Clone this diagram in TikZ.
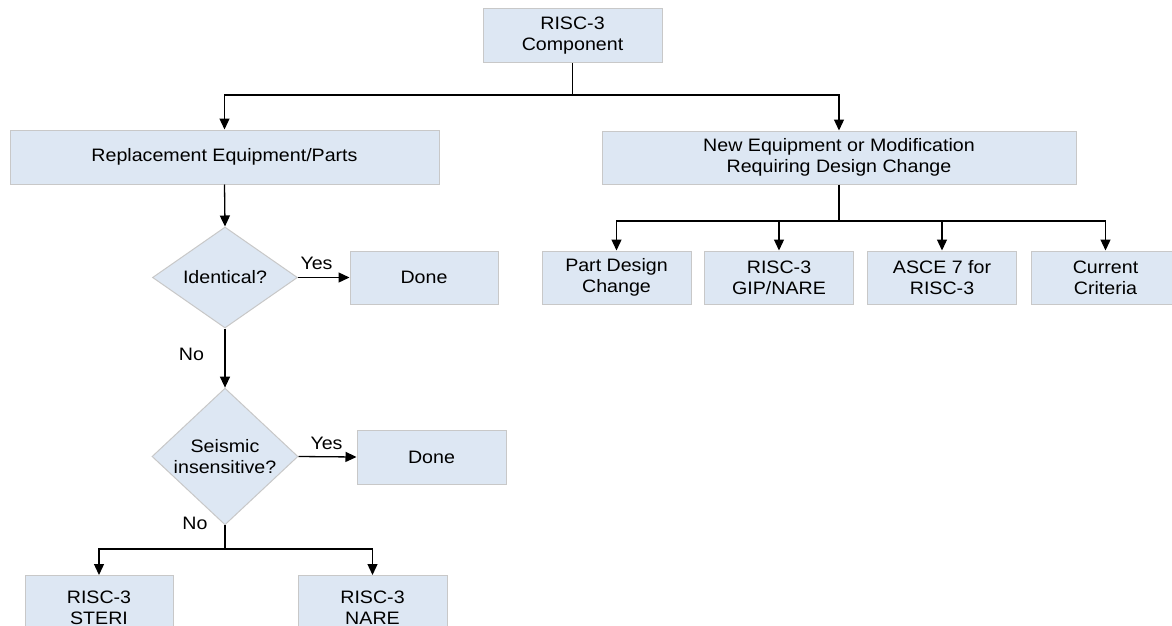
\documentclass[tikz,border=0pt]{standalone}
\usepackage{fontspec}
\setmainfont{Liberation Sans}[FakeStretch=1.09]
\usetikzlibrary{arrows.meta,shapes.geometric}
\definecolor{boxfill}{RGB}{221,231,243}
\definecolor{boxline}{RGB}{200,200,200}
\tikzset{
  box/.style={draw=boxline, line width=1pt, fill=boxfill, rectangle, inner sep=0pt, align=center,
    font=\fontsize{18}{21}\selectfont},
  dec/.style={draw=boxline, line width=1pt, fill=boxfill, diamond, inner sep=0pt, align=center,
    font=\fontsize{18}{21}\selectfont},
  lbl/.style={inner sep=0pt, font=\fontsize{18}{21}\selectfont},
  conn/.style={line width=1.3pt, black},
  arr/.style={conn, -{Triangle[length=11pt,width=10pt]}},
}
\begin{document}
\begin{tikzpicture}[x=1pt,y=-1pt]
\useasboundingbox (0,0) rectangle (1172,626);
\clip (0,0) rectangle (1172,626);
% boxes
\node[box, minimum width=179pt, minimum height=54pt] (top) at (572.5,36) {RISC-3\\Component};
\node[box, minimum width=429pt, minimum height=54pt] (rep) at (224.5,157) {Replacement Equipment/Parts};
\node[box, minimum width=474pt, minimum height=53pt] (new) at (839,157.5) {New Equipment or Modification\\Requiring Design Change};
\node[dec, minimum width=145pt, minimum height=101pt] (d1) at (225,277.5) {Identical?};
\node[box, minimum width=148pt, minimum height=53pt] (done1) at (424,277.5) {Done};
\node[dec, minimum width=146pt, minimum height=103pt] (d2) at (225,456.5) {Seismic\\insensitive?};
\node[box, minimum width=149pt, minimum height=54pt] (done2) at (431.5,457) {Done};
\node[box, minimum width=148pt, minimum height=64pt, anchor=north] (steri) at (99,575) {RISC-3\\STERI};
\node[box, minimum width=149pt, minimum height=64pt, anchor=north] (nare) at (372.5,575) {RISC-3\\NARE};
\node[box, minimum width=149pt, minimum height=53pt] (part) at (616.5,277.5) {Part Design\\Change};
\node[box, minimum width=149pt, minimum height=53pt] (gip) at (779,277.5) {RISC-3\\GIP/NARE};
\node[box, minimum width=149pt, minimum height=53pt] (asce) at (942,277.5) {ASCE 7 for\\RISC-3};
\node[box, minimum width=149pt, minimum height=53pt] (cur) at (1105.5,277.5) {Current\\Criteria};
% junctions
\coordinate (j1) at (572.5,95);
\coordinate (j2) at (225,549);
\coordinate (j3) at (839,221);
% connectors
\draw[conn] (top.south) -- (j1);
\draw[arr] (j1) -| (rep.north);
\draw[arr] (j1) -| (new.north);
\draw[arr] (rep.south) -- (d1.north);
\draw[arr] (d1.east) -- (done1.west);
\draw[arr] (d1.south) -- (d2.north);
\draw[arr] (d2.east) -- (done2.west);
\draw[conn] (d2.south) -- (j2);
\draw[arr] (j2) -| (steri.north);
\draw[arr] (j2) -| (nare.north);
\draw[conn] (new.south) -- (j3);
\draw[arr] (j3) -| (part.north);
\draw[arr] (j3) -| (gip.north);
\draw[arr] (j3) -| (asce.north);
\draw[arr] (j3) -| (cur.north);
% labels
\node[lbl] (yes1) at (316.5,263) {Yes};
\node[lbl] (yes2) at (326.5,443) {Yes};
\node[lbl] (no1) at (191.5,354) {No};
\node[lbl] (no2) at (195,523) {No};
\end{tikzpicture}
\end{document}
